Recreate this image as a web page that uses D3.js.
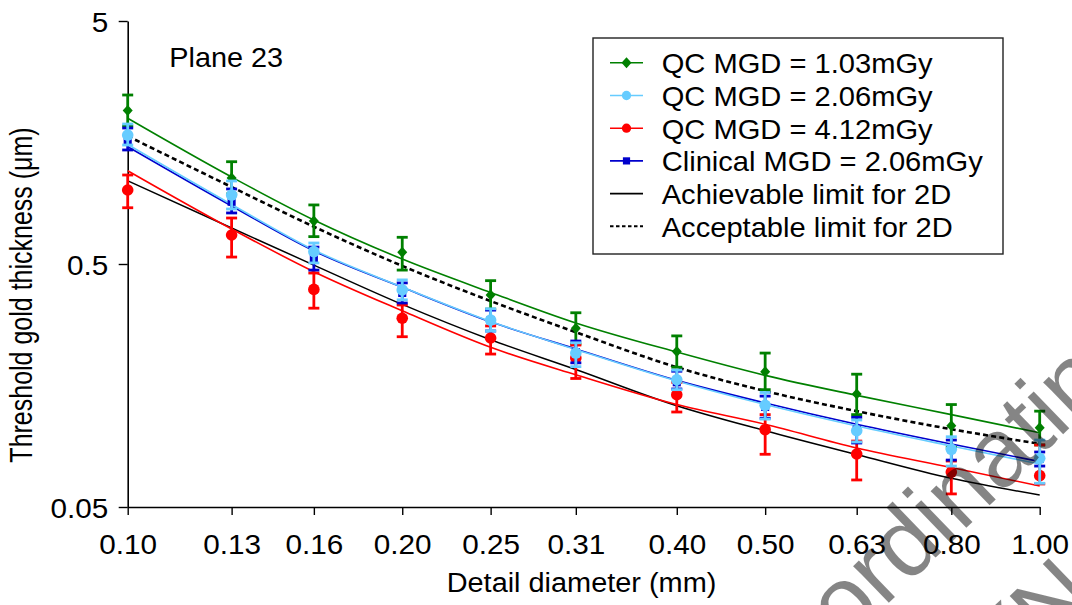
<!DOCTYPE html>
<html><head><meta charset="utf-8">
<script src="https://cdn.jsdelivr.net/npm/d3@7"></script>
<style>
body{margin:0;background:#fff}
svg{display:block}
text{font-family:"Liberation Sans",Arial,Helvetica,sans-serif;fill:#000}
</style>
</head><body>
<svg id="c" width="1072" height="605"></svg>
<script>
// ---------------- data ----------------
const diameters   = [0.10,0.13,0.16,0.20,0.25,0.31,0.40,0.50,0.63,0.80,1.00];
const xTickLabels = ["0.10","0.13","0.16","0.20","0.25","0.31","0.40","0.50","0.63","0.80","1.00"];
const yTickValues = [0.05,0.5,5];
const yTickLabels = ["0.05","0.5","5"];

// QC MGD = 1.03 mGy
const qc103    = [2.14,1.13,0.751,0.559,0.373,0.272,0.218,0.180,0.146,0.108,0.106];
const qc103Lo  = [1.85,0.971,0.648,0.472,0.326,0.234,0.188,0.152,0.120,0.088,0.090];
const qc103Hi  = [2.48,1.318,0.875,0.644,0.427,0.315,0.253,0.215,0.176,0.132,0.124];
const qc103Fit = [1.989,1.140,0.759,0.524,0.382,0.286,0.217,0.174,0.144,0.120,0.101];
// QC MGD = 2.06 mGy
const qc206    = [1.697,0.961,0.562,0.391,0.294,0.215,0.167,0.131,0.103,0.0864,0.0793];
const qc206Lo  = [1.544,0.842,0.505,0.356,0.265,0.189,0.152,0.115,0.0926,0.0737,0.0626];
const qc206Hi  = [1.884,1.098,0.610,0.430,0.327,0.237,0.183,0.148,0.114,0.0973,0.0943];
const qc206Fit = [1.551,0.879,0.571,0.402,0.290,0.2225,0.165,0.132,0.1077,0.0891,0.0751];
// QC MGD = 4.12 mGy
const qc412    = [1.008,0.658,0.393,0.299,0.248,0.205,0.145,0.104,0.0826,0.0696,0.0673];
const qc412Lo  = [0.852,0.534,0.329,0.251,0.213,0.169,0.123,0.0824,0.0646,0.0566,0.0622];
const qc412Hi  = [1.162,0.773,0.459,0.339,0.278,0.232,0.163,0.120,0.0934,0.0773,0.0900];
const qc412Fit = [1.210,0.697,0.465,0.321,0.227,0.175,0.132,0.1095,0.0874,0.0727,0.0610];
// Clinical MGD = 2.06 mGy
const clin206    = [1.619,0.902,0.529,0.380,0.294,0.217,0.163,0.129,0.104,0.0866,0.0788];
const clin206Lo  = [1.473,0.811,0.472,0.3455,0.265,0.196,0.153,0.116,0.0917,0.0780,0.0737];
const clin206Hi  = [1.814,1.018,0.587,0.418,0.323,0.241,0.181,0.143,0.117,0.0943,0.0842];
const clin206Fit = [1.519,0.866,0.566,0.401,0.289,0.2235,0.166,0.134,0.1095,0.0908,0.0769];
// EUREF limits for 2D
const achievable = [1.10,0.703,0.495,0.341,0.244,0.184,0.1305,0.103,0.0822,0.0656,0.056];
const acceptable = [1.68,1.037,0.712,0.491,0.352,0.262,0.188,0.150,0.124,0.1045,0.091];

const legendLabels = ["QC MGD = 1.03mGy","QC MGD = 2.06mGy","QC MGD = 4.12mGy",
  "Clinical MGD = 2.06mGy","Achievable limit for 2D","Acceptable limit for 2D"];
const planeLabel = "Plane 23";
const xTitle = "Detail diameter (mm)";
const yTitle = "Threshold gold thickness (\u03bcm)";
const watermark1 = "Coordinating";
const watermark2 = "(No";

// ---------------- chart ----------------
const svg = d3.select("#c");
const X0 = 127.7, X1 = 1039.7, Y0 = 507, Y1 = 21;
const x = d3.scaleLog().domain([0.1, 1]).range([X0, X1]);
const y = d3.scaleLog().domain([0.05, 5]).range([Y0, Y1]);

const series = [
  {name:legendLabels[0], v:qc103, lo:qc103Lo, hi:qc103Hi, fit:qc103Fit, color:"#008000", shape:"diamond"},
  {name:legendLabels[2], v:qc412, lo:qc412Lo, hi:qc412Hi, fit:qc412Fit, color:"#ff0000", shape:"circle"},
  {name:legendLabels[3], v:clin206, lo:clin206Lo, hi:clin206Hi, fit:clin206Fit, color:"#0000cc", shape:"square"},
  {name:legendLabels[1], v:qc206, lo:qc206Lo, hi:qc206Hi, fit:qc206Fit, color:"#66ccff", shape:"circle"}
];

const line = d3.line().x((d,i)=>x(diameters[i])).y(d=>y(d)).curve(d3.curveMonotoneX);

// axes
const gx = svg.append("g").attr("transform",`translate(0,${Y0})`)
  .call(d3.axisBottom(x).tickValues(diameters).tickFormat((d,i)=>xTickLabels[i]).tickSize(8).tickSizeOuter(0));
gx.select(".domain").attr("stroke","#000").attr("stroke-width",1.6);
gx.selectAll(".tick line").attr("stroke","#000").attr("stroke-width",1.4);
gx.selectAll(".tick text").attr("y",0).attr("dy",null).attr("font-size",27)
  .attr("font-family",null).attr("transform","translate(0,47) scale(1.1,1)");

const gy = svg.append("g").attr("transform",`translate(${X0},0)`)
  .call(d3.axisLeft(y).tickValues(yTickValues).tickFormat((d,i)=>yTickLabels[i]).tickSize(9).tickSizeOuter(0));
gy.select(".domain").attr("stroke","#000").attr("stroke-width",1.6);
gy.selectAll(".tick line").attr("stroke","#000").attr("stroke-width",1.4);
gy.selectAll(".tick text").attr("x",0).attr("dy",null).attr("font-size",27)
  .attr("font-family",null).attr("transform","translate(-19.5,10) scale(1.1,1)");
svg.selectAll(".tick text").style("fill","#000");

// titles
svg.append("text").text(xTitle).attr("font-size",27).attr("text-anchor","middle")
  .attr("transform","translate(581.5,592) scale(1.07,1)");
svg.append("text").text(yTitle).attr("font-size",25).attr("text-anchor","middle")
  .attr("transform","translate(32.3,295) scale(1.23,1) rotate(-90)");
svg.append("text").text(planeLabel).attr("font-size",28)
  .attr("transform","translate(169.3,66.7) scale(1.03,1)");

// limit curves
svg.append("path").datum(achievable).attr("d",line).attr("fill","none")
  .attr("stroke","#000").attr("stroke-width",1.5);
svg.append("path").datum(acceptable).attr("d",line).attr("fill","none")
  .attr("stroke","#000").attr("stroke-width",2.6).attr("stroke-dasharray","5,3.2");

// fits
series.forEach(s=>{
  svg.append("path").datum(s.fit).attr("d",line).attr("fill","none")
    .attr("stroke",s.color).attr("stroke-width",1.6);
});

function marker(g, shape, cx, cy, color, size){
  if(shape==="circle") g.append("circle").attr("cx",cx).attr("cy",cy).attr("r",size*0.58).attr("fill",color);
  else if(shape==="square") g.append("rect").attr("x",cx-size*0.45).attr("y",cy-size*0.45)
    .attr("width",size*0.9).attr("height",size*0.9).attr("fill",color);
  else g.append("path").attr("d",`M${cx},${cy-size*0.55}L${cx+size*0.5},${cy}L${cx},${cy+size*0.55}L${cx-size*0.5},${cy}Z`).attr("fill",color);
}

// error bars and markers
series.forEach(s=>{
  const g = svg.append("g");
  diameters.forEach((d,i)=>{
    const cx = x(d), yl = y(s.lo[i]), yh = y(s.hi[i]);
    g.append("line").attr("x1",cx).attr("x2",cx).attr("y1",yl).attr("y2",yh)
      .attr("stroke",s.color).attr("stroke-width",2.8);
    [yl,yh].forEach(yy=>g.append("line").attr("x1",cx-5.5).attr("x2",cx+5.5).attr("y1",yy).attr("y2",yy)
      .attr("stroke",s.color).attr("stroke-width",2.8));
    marker(g, s.shape, cx, y(s.v[i]), s.color, s.shape==="diamond"?10:(s.shape==="square"?9:10));
  });
});

// legend
const lg = svg.append("g");
lg.append("rect").attr("x",593).attr("y",38).attr("width",410).attr("height",216)
  .attr("fill","#fff").attr("stroke","#222").attr("stroke-width",1.4);
const legendItems = [
  {label:legendLabels[0], color:"#008000", shape:"diamond"},
  {label:legendLabels[1], color:"#66ccff", shape:"circle"},
  {label:legendLabels[2], color:"#ff0000", shape:"circle"},
  {label:legendLabels[3], color:"#0000cc", shape:"square"},
  {label:legendLabels[4], color:"#000", shape:null},
  {label:legendLabels[5], color:"#000", shape:null, dashed:true}
];
legendItems.forEach((it,i)=>{
  const base = 73.3 + i*32.7, cy = base - 10.5;
  lg.append("line").attr("x1",610).attr("x2",643).attr("y1",cy).attr("y2",cy)
    .attr("stroke",it.color).attr("stroke-width",it.dashed?2:1.6)
    .attr("stroke-dasharray",it.dashed?"3.5,2.5":null);
  if(it.shape) marker(lg, it.shape, 626.5, cy, it.color, it.shape==="diamond"?10:8);
  lg.append("text").text(it.label).attr("font-size",28)
    .attr("transform",`translate(661.7,${base}) scale(1.04,1)`);
});

// watermark
const wm = svg.append("g").attr("pointer-events","none");
wm.append("text").text(watermark1).attr("font-size",97).style("fill","#000")
  .style("fill-opacity",0.48)
  .attr("transform","translate(756,731) rotate(-44)");
wm.append("text").text(watermark2).attr("font-size",97).style("fill","#000")
  .style("fill-opacity",0.48)
  .attr("transform","translate(1027,672) rotate(-44)");
</script>
</body></html>
